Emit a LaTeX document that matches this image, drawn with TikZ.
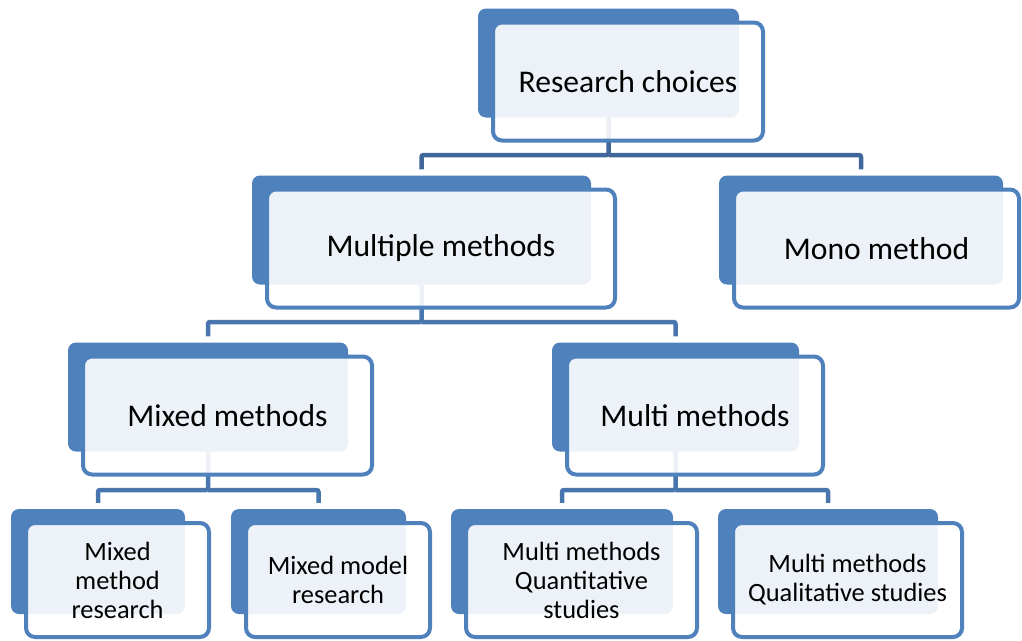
\documentclass[tikz,border=0pt]{standalone}
\usepackage{fontspec}
\setmainfont{Carlito}
\usetikzlibrary{calc}
\definecolor{boxblue}{HTML}{4F81BD}
\definecolor{linkdark}{HTML}{41679A}
\definecolor{linkblue}{HTML}{4A76AF}
\tikzstyle{back}=[rectangle,rounded corners=8pt,fill=boxblue,inner sep=0pt]
\tikzstyle{front}=[rectangle,rounded corners=9pt,draw=boxblue,line width=4pt,fill=white,fill opacity=0.9,text opacity=1,align=center,inner sep=0pt]
\tikzstyle{bigback}=[minimum height=109pt]
\tikzstyle{smallback}=[minimum height=105pt]
\tikzstyle{big}=[minimum height=118pt,font=\fontsize{31.6}{38}\selectfont]
\tikzstyle{small}=[minimum height=114pt,font=\fontsize{26.4}{29}\selectfont]
\tikzstyle{link}=[line width=4.5pt,draw=linkblue,rounded corners=2pt,shorten >=6pt]

\begin{document}
\begin{tikzpicture}[x=1pt,y=-1pt]
  \useasboundingbox (0,0) rectangle (1022,640);
  \node(rcb)[back,bigback,minimum width=261pt] at (608.5,63) {};
  \node(mmb)[back,bigback,minimum width=339pt] at (421.5,230) {};
  \node(mob)[back,bigback,minimum width=284pt] at (861,230) {};
  \node(mxb)[back,bigback,minimum width=280pt] at (208,397) {};
  \node(mub)[back,bigback,minimum width=247pt] at (675.5,397) {};
  \node(b1b)[back,smallback,minimum width=174pt] at (98,561.5) {};
  \node(b2b)[back,smallback,minimum width=175pt] at (318.5,561.5) {};
  \node(b3b)[back,smallback,minimum width=222pt] at (562,561.5) {};
  \node(b4b)[back,smallback,minimum width=220pt] at (828,561.5) {};

  \coordinate(j1) at (rcb.south |- 0,155);
  \coordinate(j2) at (mmb.south |- 0,322);
  \coordinate(j3) at (mxb.south |- 0,490);
  \coordinate(j4) at (mub.south |- 0,490);
  \draw[link,draw=linkdark] (rcb.south) -- (j1) -| (mmb.north);
  \draw[link,draw=linkdark] (j1) -| (mob.north);
  \draw[link] (mmb.south) -- (j2) -| (mxb.north);
  \draw[link] (j2) -| (mub.north);
  \draw[link] (mxb.south) -- (j3) -| (b1b.north);
  \draw[link] (j3) -| (b2b.north);
  \draw[link] (mub.south) -- (j4) -| (b3b.north);
  \draw[link] (j4) -| (b4b.north);

  \node(rc)[front,big,minimum width=270pt] at ($(rcb)+(19.5,18.5)$) {Research choices};
  \node(mm)[front,big,minimum width=348pt] at ($(mmb)+(19.5,18.5)$) {Multiple methods};
  \node(mo)[front,big,minimum width=285pt] at ($(mob)+(15.5,18.5)$) {Mono method};
  \node(mx)[front,big,minimum width=289pt] at ($(mxb)+(19.5,18.5)$) {Mixed methods};
  \node(mu)[front,big,minimum width=256pt] at ($(mub)+(19.5,18.5)$) {Multi methods};
  \node(b1)[front,small,minimum width=183pt] at ($(b1b)+(19.5,18.5)$) {Mixed\\method\\research};
  \node(b2)[front,small,minimum width=184pt] at ($(b2b)+(19.5,18.5)$) {Mixed model\\research};
  \node(b3)[front,small,minimum width=231pt] at ($(b3b)+(19.5,18.5)$) {Multi methods\\Quantitative\\studies};
  \node(b4)[front,small,minimum width=229pt] at ($(b4b)+(19.5,18.5)$) {Multi methods\\Qualitative studies};
\end{tikzpicture}
\end{document}
